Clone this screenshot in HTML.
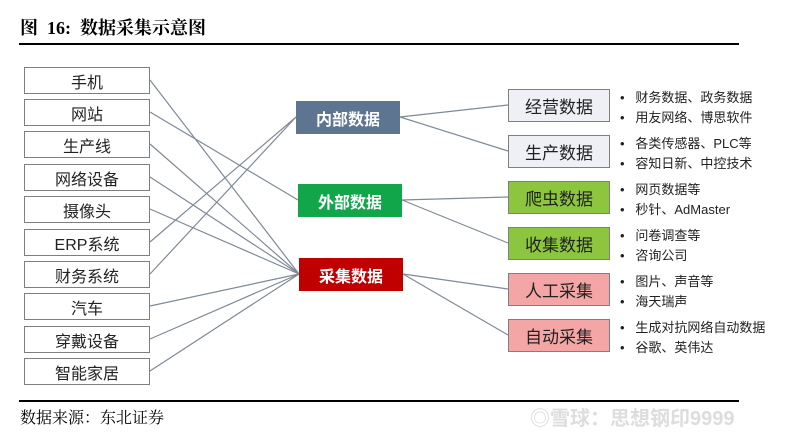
<!DOCTYPE html>
<html><head><meta charset="utf-8"><style>
body{margin:0;width:800px;height:439px;background:#fff;position:relative;overflow:hidden;font-family:"Liberation Sans","Noto Sans CJK SC",sans-serif}
.t{position:absolute;white-space:nowrap}
.b{position:absolute;box-sizing:border-box;display:flex;align-items:center;justify-content:center;white-space:nowrap}
.l{left:24px;width:126px;height:27px;border:1px solid #7f7f7f;background:#fff;font-size:16px;color:#222}
.m{width:104px;height:33px;color:#fff;font-weight:bold;font-size:16px}
.r{left:508px;width:102px;height:33px;border:1px solid #7f7f7f;font-size:17px;color:#222}
.bl{position:absolute;left:620px;font-size:13px;color:#222;line-height:20px;white-space:nowrap}
</style></head><body>
<div class="t" style="left:20px;top:14px;font-size:18px;font-weight:bold;font-family:'Liberation Serif','Noto Serif CJK SC',serif">图&nbsp; 16:&nbsp; 数据采集示意图</div>
<div style="position:absolute;left:19px;top:43px;width:720px;height:2px;background:#000"></div>
<svg width="800" height="439" style="position:absolute;left:0;top:0" stroke="#7f8a96" stroke-width="1.2">
<line x1="150" y1="80" x2="299" y2="274"/>
<line x1="150" y1="112" x2="298" y2="200"/>
<line x1="150" y1="144" x2="299" y2="274"/>
<line x1="150" y1="177" x2="299" y2="274"/>
<line x1="150" y1="209" x2="299" y2="274"/>
<line x1="150" y1="242" x2="296" y2="117"/>
<line x1="150" y1="274" x2="296" y2="117"/>
<line x1="150" y1="306" x2="299" y2="274"/>
<line x1="150" y1="339" x2="299" y2="274"/>
<line x1="150" y1="371" x2="299" y2="274"/>
<line x1="400" y1="117" x2="508" y2="105"/>
<line x1="400" y1="117" x2="508" y2="151"/>
<line x1="402" y1="200" x2="508" y2="197"/>
<line x1="402" y1="200" x2="508" y2="243"/>
<line x1="403" y1="274" x2="508" y2="289"/>
<line x1="403" y1="274" x2="508" y2="335"/>
</svg>
<div class="b l" style="top:67px">手机</div>
<div class="b l" style="top:99px">网站</div>
<div class="b l" style="top:131px">生产线</div>
<div class="b l" style="top:164px">网络设备</div>
<div class="b l" style="top:196px">摄像头</div>
<div class="b l" style="top:229px">ERP系统</div>
<div class="b l" style="top:261px">财务系统</div>
<div class="b l" style="top:293px">汽车</div>
<div class="b l" style="top:326px">穿戴设备</div>
<div class="b l" style="top:358px">智能家居</div>
<div class="b m" style="left:296px;top:101px;background:#5d7591">内部数据</div>
<div class="b m" style="left:298px;top:184px;background:#12a64a">外部数据</div>
<div class="b m" style="left:299px;top:258px;background:#c00000">采集数据</div>
<div class="b r" style="top:89px;background:#eef0f5">经营数据</div>
<div class="b r" style="top:135px;background:#eef0f5">生产数据</div>
<div class="b r" style="top:181px;background:#8cc63f">爬虫数据</div>
<div class="b r" style="top:227px;background:#8cc63f">收集数据</div>
<div class="b r" style="top:273px;background:#f4a6a6">人工采集</div>
<div class="b r" style="top:319px;background:#f4a6a6">自动采集</div>
<div class="bl" style="top:88px">•&nbsp;&nbsp; 财务数据、政务数据<br>•&nbsp;&nbsp; 用友网络、博思软件</div>
<div class="bl" style="top:134px">•&nbsp;&nbsp; 各类传感器、PLC等<br>•&nbsp;&nbsp; 容知日新、中控技术</div>
<div class="bl" style="top:180px">•&nbsp;&nbsp; 网页数据等<br>•&nbsp;&nbsp; 秒针、AdMaster</div>
<div class="bl" style="top:226px">•&nbsp;&nbsp; 问卷调查等<br>•&nbsp;&nbsp; 咨询公司</div>
<div class="bl" style="top:272px">•&nbsp;&nbsp; 图片、声音等<br>•&nbsp;&nbsp; 海天瑞声</div>
<div class="bl" style="top:318px">•&nbsp;&nbsp; 生成对抗网络自动数据<br>•&nbsp;&nbsp; 谷歌、英伟达</div>
<div style="position:absolute;left:19px;top:400px;width:720px;height:2px;background:#000"></div>
<div class="t" style="left:20px;top:405px;font-size:16px;font-family:'Liberation Serif','Noto Serif CJK SC',serif">数据来源：东北证券</div>
<div class="t" style="left:530px;top:402px;font-size:20px;color:#ddd;font-weight:bold">◎雪球：思想钢印9999</div>
</body></html>
